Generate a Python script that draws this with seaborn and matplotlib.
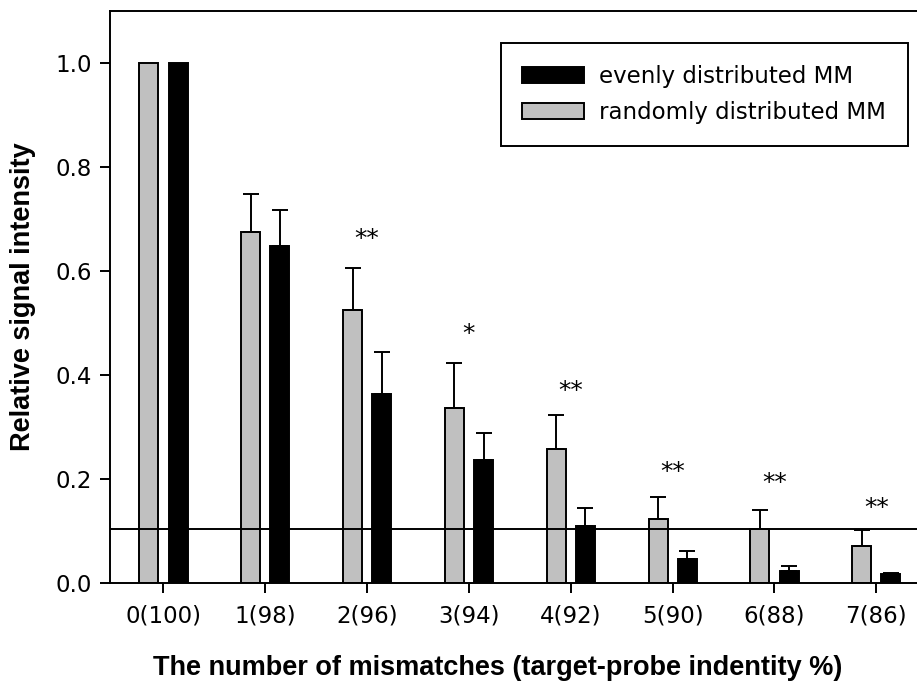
import matplotlib
matplotlib.use("Agg")
import matplotlib.pyplot as plt
from matplotlib.patches import Patch
import pandas as pd
import seaborn as sns

# values
categories = ['0(100)', '1(98)', '2(96)', '3(94)', '4(92)', '5(90)', '6(88)', '7(86)']
random_mean = [1.0, 0.674, 0.525, 0.335, 0.257, 0.122, 0.104, 0.070]
random_err = [0.0, 0.074, 0.081, 0.088, 0.066, 0.043, 0.036, 0.031]
even_mean = [1.0, 0.648, 0.363, 0.236, 0.109, 0.045, 0.023, 0.016]
even_err = [0.0, 0.069, 0.081, 0.051, 0.034, 0.016, 0.008, 0.002]
sig_marks = ['', '', '**', '*', '**', '**', '**', '**']
sig_y = [0, 0, 0.661, 0.478, 0.369, 0.213, 0.191, 0.143]
threshold = 0.104

series = ['randomly distributed MM', 'evenly distributed MM']
colors = {'randomly distributed MM': '#c0c0c0', 'evenly distributed MM': 'black'}

df = pd.concat([
    pd.DataFrame({'mm': categories, 'value': random_mean, 'series': series[0]}),
    pd.DataFrame({'mm': categories, 'value': even_mean, 'series': series[1]}),
])

sns.set_style('ticks')
plt.rcParams['font.family'] = ['DejaVu Sans']
plt.rcParams['text.color'] = 'black'
plt.rcParams['axes.labelcolor'] = 'black'
plt.rcParams['xtick.color'] = 'black'
plt.rcParams['ytick.color'] = 'black'

fig = plt.figure(figsize=(9.17, 6.83), dpi=100)
ax = fig.add_axes([0.12, 0.147, 0.88, 0.837])

sns.barplot(
    df, ax=ax,
    x='mm', y='value', hue='series',
    order=categories, hue_order=series, palette=colors,
    width=0.573, gap=0.35,
    edgecolor='black', linewidth=1.4,
    errorbar=None, legend=False,
)

# one-sided (upper) error bars
for container, errs in zip(ax.containers, [random_err, even_err]):
    for bar, err in zip(container, errs):
        if err <= 0:
            continue
        x = bar.get_x() + bar.get_width() / 2
        ax.errorbar(x, bar.get_height(), yerr=[[0], [err]], fmt='none',
                    ecolor='black', elinewidth=1.4, capsize=5.8, capthick=1.4,
                    zorder=1)

ax.axhline(threshold, color='black', lw=1.4, zorder=5)

for i, (mark, y) in enumerate(zip(sig_marks, sig_y)):
    if mark:
        ax.text(i, y, mark, ha='center', va='center', fontsize=18, color='black')

ax.set_xlim(-0.525, 7.40)
ax.set_ylim(0, 1.1)
ax.set_yticks([0.0, 0.2, 0.4, 0.6, 0.8, 1.0])
ax.set_yticklabels(['0.0', '0.2', '0.4', '0.6', '0.8', '1.0'])

ax.tick_params(axis='both', direction='out', length=7, width=1.4,
               labelsize=16.5, pad=6, color='black', labelcolor='black')
ax.tick_params(axis='x', pad=9)

for side in ['left', 'bottom', 'top']:
    ax.spines[side].set_linewidth(1.4)
    ax.spines[side].set_color('black')
ax.spines['right'].set_visible(False)

label_font = dict(family=['Liberation Sans', 'DejaVu Sans'],
                  fontweight='bold', fontsize=19.5, color='black')
ax.set_xlabel('The number of mismatches (target-probe indentity %)', **label_font)
ax.set_ylabel('Relative signal intensity', **label_font)
ax.xaxis.set_label_coords(0.48, -0.126)
ax.yaxis.set_label_coords(-0.092, 0.5)

handles = [
    Patch(facecolor='black', edgecolor='black', linewidth=1.4),
    Patch(facecolor='#c0c0c0', edgecolor='black', linewidth=1.4),
]
leg = ax.legend(handles, ['evenly distributed MM', 'randomly distributed MM'],
                loc='upper right', bbox_to_anchor=(0.989, 0.944),
                borderaxespad=0, fontsize=16.5, frameon=True, fancybox=False,
                handlelength=2.7, handleheight=0.7, handletextpad=0.66,
                labelspacing=0.58, borderpad=0.95)
leg.get_frame().set_edgecolor('black')
leg.get_frame().set_linewidth(1.4)
leg.get_frame().set_alpha(1)

fig.savefig('out.png', dpi=100)
